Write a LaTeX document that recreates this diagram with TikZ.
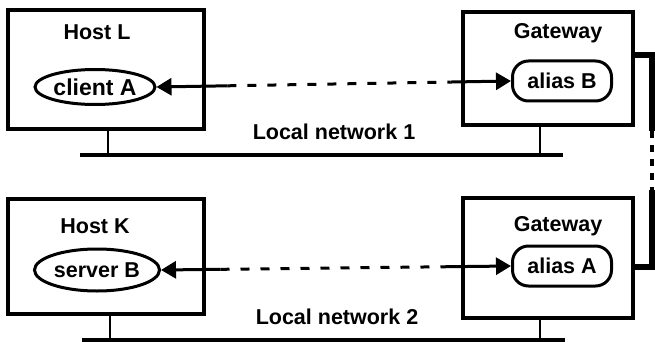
\documentclass[tikz,border=0pt]{standalone}
\usepackage{fontspec}
\setmainfont{Liberation Sans}
\usetikzlibrary{arrows.meta,shapes.geometric,calc}
\begin{document}
\begin{tikzpicture}[x=1pt,y=-1pt,
  font=\fontsize{21.5}{25}\selectfont\bfseries,
  box/.style={draw,line width=4.5pt,inner sep=0pt},
  proc/.style={draw,ellipse,line width=3pt,inner sep=0pt},
  aliasbox/.style={draw,rounded corners=16pt,line width=3pt,inner sep=0pt,minimum width=99pt,minimum height=40pt},
  lbl/.style={inner sep=0pt},
  net/.style={line width=4.5pt},
  stem/.style={line width=2.2pt},
  msg/.style={line width=3pt},
  tipend/.style={-{Triangle[length=15pt,width=17pt]}},
  tipstart/.style={{Triangle[length=15pt,width=17pt]}-},
  link/.style={line width=5.5pt,line join=miter}]
\useasboundingbox (0,0) rectangle (655,342);

% boxes
\node[box,minimum width=196pt,minimum height=119pt] (hl) at (106,69.5) {};
\node[box,minimum width=170pt,minimum height=113pt] (g1) at (548,68.5) {};
\node[box,minimum width=196pt,minimum height=115pt] (hk) at (106,256.5) {};
\node[box,minimum width=170pt,minimum height=120pt] (g2) at (548,258) {};

% titles
\node[lbl] (thl) at (97,32) {Host L};
\node[lbl] (tg1) at (558,33) {Gateway};
\node[lbl] (thk) at (95,226) {Host K};
\node[lbl] (tg2) at (558,226) {Gateway};

% processes
\node[proc,minimum width=120pt,minimum height=35pt,font=\fontsize{23}{26}\selectfont\bfseries] (ca) at (95,87) {client A};
\node[aliasbox] (ab) at (562,81) {alias B};
\node[proc,minimum width=125pt,minimum height=42pt] (sb) at (97,270) {server B};
\node[aliasbox] (aa) at (562,266) {alias A};

% messages
\coordinate (p1) at ($(ca.east)!0.2!(ab.west)$);
\coordinate (p2) at ($(ca.east)!0.83!(ab.west)$);
\draw[msg,tipstart] (ca.east) -- (p1);
\draw[msg,dash pattern=on 9pt off 11pt] (p1) -- (p2);
\draw[msg,tipend] (p2) -- (ab.west);

\coordinate (q1) at ($(sb.east)!0.17!(aa.west)$);
\coordinate (q2) at ($(sb.east)!0.80!(aa.west)$);
\draw[msg,tipstart] (sb.east) -- (q1);
\draw[msg,dash pattern=on 9pt off 11pt] (q1) -- (q2);
\draw[msg,tipend] (q2) -- (aa.west);

% networks
\coordinate (n1l) at (80,155);
\coordinate (n1r) at (563,155);
\coordinate (s1) at (108,155);
\coordinate (s2) at (540,155);
\draw[net] (n1l) -- (n1r);
\draw[stem] (hl.south -| s1) -- (s1);
\draw[stem] (g1.south -| s2) -- (s2);
\node[lbl] (ln1) at (334,132) {Local network 1};

\coordinate (n2l) at (82,340);
\coordinate (n2r) at (565,340);
\coordinate (s3) at (110,340);
\coordinate (s4) at (540,340);
\draw[net] (n2l) -- (n2r);
\draw[stem] (hk.south -| s3) -- (s3);
\draw[stem] (g2.south -| s4) -- (s4);
\node[lbl] (ln2) at (337,317) {Local network 2};

% gateway link
\coordinate (r1) at (652,55);
\coordinate (r2) at (652,131);
\coordinate (r3) at (652,190);
\coordinate (r4) at (652,267);
\draw[link] (g1.east |- r1) -- (r1) -- (r2);
\draw[line width=4pt,dash pattern=on 7pt off 7pt] (r2) -- (r3);
\draw[link] (r3) -- (r4) -- (g2.east |- r4);
\end{tikzpicture}
\end{document}
